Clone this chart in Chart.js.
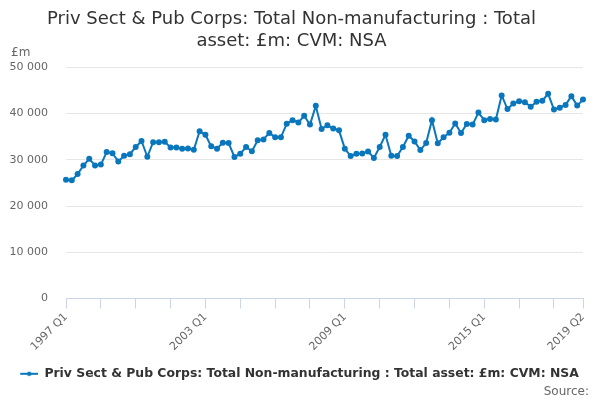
<!DOCTYPE html>
<html lang="en">
<head>
    <meta charset="UTF-8">
    <title>Priv Sect & Pub Corps: Total Non-manufacturing</title>
    <style>
        body {
            margin: 0;
            padding: 0;
            background: #fff;
            font-family: 'DejaVu Sans', sans-serif;
        }
        .chart-box {
            width: 600px;
            height: 400px;
        }
    </style>
</head>
<body>

    <div class="chart-box">
        <canvas id="chart"></canvas>
    </div>

    <script src="https://cdn.jsdelivr.net/npm/chart.js"></script>
    <script>
        // data, quarterly 1997 Q1 .. 2019 Q2
        const firstYear = 1997;
        const quarterCount = 90;
        const seriesName = "Priv Sect & Pub Corps: Total Non-manufacturing : Total asset: £m: CVM: NSA";
        const titleLines = ["Priv Sect & Pub Corps: Total Non-manufacturing : Total", "asset: £m: CVM: NSA"];
        const shownLabels = ["1997 Q1", "2003 Q1", "2009 Q1", "2015 Q1", "2019 Q2"];
        const yTicks = [0, 10000, 20000, 30000, 40000, 50000];
        const values = [
            25700, 25550, 26900, 28750, 30200, 28750, 28950, 31650, 31400, 29650,
            30850, 31200, 32750, 34050, 30650, 33800, 33800, 33900, 32650, 32650,
            32400, 32450, 32150, 36150, 35400, 32900, 32400, 33700, 33600, 30600,
            31300, 32750, 31850, 34200, 34400, 35800, 34850, 34850, 37800, 38550,
            38050, 39500, 37600, 41650, 36650, 37450, 36750, 36350, 32400, 30800,
            31300, 31350, 31800, 30400, 32750, 35400, 30850, 30800, 32750, 35200,
            33950, 32100, 33600, 38550, 33550, 34850, 35850, 37850, 35800, 37750,
            37600, 40200, 38550, 38800, 38700, 43900, 40950, 42150, 42650, 42450,
            41450, 42550, 42750, 44250, 40850, 41250, 41850, 43750, 41700, 43000
        ];

        let labels = [];
        for (let i = 0; i < quarterCount; i++) {
            labels.push((firstYear + Math.floor(i / 4)) + " Q" + (i % 4 + 1));
        }

        const lineColor = "#0a77bd";

        // line-with-dot symbol for the legend, drawn in the right part of a wider
        // canvas so the legend sits a little right of centre like the original
        let legendIcon = document.createElement("canvas");
        legendIcon.width = 34;
        legendIcon.height = 8;
        let ic = legendIcon.getContext("2d");
        ic.strokeStyle = lineColor;
        ic.lineWidth = 2;
        ic.beginPath();
        ic.moveTo(16, 4);
        ic.lineTo(34, 4);
        ic.stroke();
        ic.fillStyle = lineColor;
        ic.beginPath();
        ic.arc(25, 4, 2.2, 0, Math.PI * 2);
        ic.fill();

        function spaced(n) {
            return n.toString().replace(/\B(?=(\d{3})+(?!\d))/g, " ");
        }

        const extraText = {
            id: "extraText",
            afterDraw(chart) {
                let ctx = chart.ctx;
                ctx.save();
                ctx.fillStyle = "#666";
                ctx.font = "12px 'DejaVu Sans'";
                ctx.textBaseline = "middle";
                ctx.textAlign = "left";
                ctx.fillText("£m", 11, 53);
                ctx.textAlign = "right";
                ctx.fillText("Source:", 589, 392);
                ctx.restore();
            }
        };

        Chart.defaults.font.family = "'DejaVu Sans', sans-serif";

        new Chart(document.getElementById("chart"), {
            type: "line",
            data: {
                labels: labels,
                datasets: [{
                    label: seriesName,
                    data: values,
                    borderColor: lineColor,
                    backgroundColor: lineColor,
                    borderWidth: 2,
                    pointRadius: 2,
                    pointHoverRadius: 4,
                    tension: 0,
                    pointStyle: "circle"
                }]
            },
            options: {
                responsive: true,
                maintainAspectRatio: false,
                animation: false,
                layout: { padding: { left: 0, right: 17, top: 0, bottom: 10 } },
                plugins: {
                    title: {
                        display: true,
                        text: titleLines,
                        color: "#333",
                        font: { size: 18, weight: "normal" },
                        padding: { top: 9, bottom: 15 }
                    },
                    legend: {
                        position: "bottom",
                        labels: {
                            usePointStyle: true,
                            pointStyle: legendIcon,
                            pointStyleWidth: 34,
                            color: "#333",
                            font: { size: 12.4, weight: "bold" },
                            padding: 8
                        }
                    },
                    tooltip: { enabled: true }
                },
                scales: {
                    x: {
                        offset: false,
                        grid: {
                            drawOnChartArea: false,
                            drawTicks: true,
                            tickLength: 10,
                            color: ctx => (ctx.index % 6 === 0 || ctx.index === quarterCount - 1) ? "#ccd6eb" : "rgba(0,0,0,0)"
                        },
                        border: { color: "#ccd6eb" },
                        ticks: {
                            autoSkip: false,
                            minRotation: 45,
                            maxRotation: 45,
                            color: "#666",
                            font: { size: 11 },
                            padding: 2,
                            callback: function (val, idx) {
                                let lab = this.getLabelForValue(val);
                                return shownLabels.includes(lab) ? lab : "";
                            }
                        },
                        afterFit: scale => { scale.height = 61; }
                    },
                    y: {
                        min: 0,
                        max: 50000,
                        grid: { color: "#e6e6e6", drawTicks: false },
                        border: { display: false },
                        ticks: {
                            stepSize: 10000,
                            color: "#666",
                            font: { size: 11 },
                            padding: 18,
                            callback: v => yTicks.includes(v) ? spaced(v) : ""
                        },
                        afterFit: scale => { scale.width = 66; }
                    }
                }
            },
            plugins: [extraText]
        });
    </script>

</body>
</html>
